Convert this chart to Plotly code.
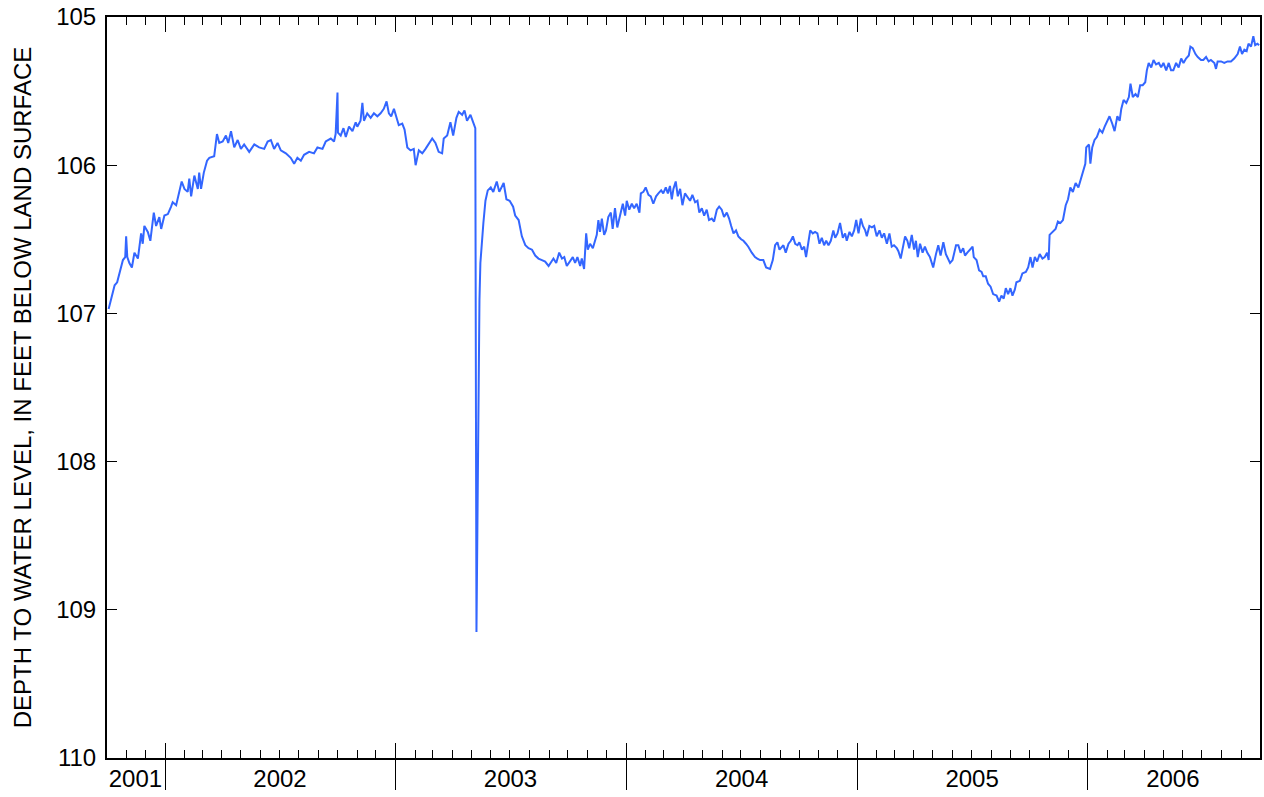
import pandas as pd
import plotly.graph_objects as go

years_2001 = [2001.755, 2001.766, 2001.781, 2001.792, 2001.802, 2001.817, 2001.827, 2001.831, 2001.836,
              2001.845, 2001.856, 2001.867, 2001.882, 2001.896, 2001.903, 2001.910, 2001.925, 2001.936,
              2001.951, 2001.961, 2001.975, 2001.983, 2001.997]
depth_2001 = [106.97, 106.91, 106.81, 106.79, 106.73, 106.64, 106.62, 106.48, 106.62,
              106.66, 106.69, 106.59, 106.63, 106.46, 106.53, 106.41, 106.45, 106.51,
              106.32, 106.41, 106.35, 106.43, 106.34]

years_2002 = [2002.012, 2002.026, 2002.033, 2002.048, 2002.062, 2002.072, 2002.084, 2002.098, 2002.105,
              2002.113, 2002.127, 2002.142, 2002.148, 2002.156, 2002.168, 2002.182, 2002.192, 2002.213,
              2002.225, 2002.235, 2002.250, 2002.264, 2002.274, 2002.286, 2002.300, 2002.315, 2002.329,
              2002.343, 2002.365, 2002.387, 2002.408, 2002.430, 2002.445, 2002.459, 2002.473, 2002.488,
              2002.502, 2002.524, 2002.545, 2002.560, 2002.574, 2002.589, 2002.603, 2002.625, 2002.646,
              2002.661, 2002.683, 2002.697, 2002.719, 2002.733, 2002.740, 2002.748, 2002.750, 2002.762,
              2002.774, 2002.784, 2002.798, 2002.813, 2002.827, 2002.834, 2002.848, 2002.856, 2002.863,
              2002.877, 2002.892, 2002.906, 2002.921, 2002.935, 2002.949, 2002.961, 2002.971, 2002.981,
              2002.993]
depth_2002 = [106.33, 106.28, 106.25, 106.27, 106.17, 106.11, 106.16, 106.18, 106.09,
              106.21, 106.07, 106.16, 106.05, 106.16, 106.05, 105.97, 105.95, 105.94,
              105.79, 105.85, 105.84, 105.80, 105.85, 105.77, 105.88, 105.83, 105.89,
              105.86, 105.91, 105.86, 105.88, 105.89, 105.84, 105.83, 105.89, 105.85,
              105.90, 105.92, 105.95, 105.99, 105.95, 105.97, 105.93, 105.91, 105.92,
              105.88, 105.89, 105.84, 105.82, 105.84, 105.79, 105.51, 105.78, 105.80,
              105.75, 105.81, 105.74, 105.77, 105.71, 105.74, 105.70, 105.58, 105.70,
              105.65, 105.68, 105.65, 105.67, 105.65, 105.62, 105.57, 105.65, 105.67,
              105.62]

years_2003 = [2003.007, 2003.014, 2003.029, 2003.039, 2003.051, 2003.065, 2003.079, 2003.087, 2003.101,
              2003.116, 2003.130, 2003.144, 2003.159, 2003.173, 2003.187, 2003.202, 2003.209, 2003.224,
              2003.238, 2003.250, 2003.264, 2003.274, 2003.289, 2003.299, 2003.310, 2003.325, 2003.339,
              2003.346, 2003.351, 2003.355, 2003.359, 2003.364, 2003.368, 2003.374, 2003.381, 2003.390,
              2003.400, 2003.413, 2003.424, 2003.439, 2003.450, 2003.469, 2003.481, 2003.495, 2003.510,
              2003.519, 2003.534, 2003.548, 2003.563, 2003.577, 2003.592, 2003.606, 2003.620, 2003.635,
              2003.649, 2003.664, 2003.674, 2003.685, 2003.697, 2003.710, 2003.722, 2003.732, 2003.743,
              2003.758, 2003.769, 2003.779, 2003.789, 2003.801, 2003.808, 2003.818, 2003.827, 2003.834,
              2003.844, 2003.856, 2003.866, 2003.873, 2003.880, 2003.887, 2003.895, 2003.905, 2003.913,
              2003.923, 2003.934, 2003.942, 2003.952, 2003.962, 2003.974, 2003.986, 2003.996]
depth_2003 = [105.70, 105.73, 105.72, 105.76, 105.88, 105.90, 105.89, 106.00, 105.90,
              105.92, 105.89, 105.86, 105.82, 105.85, 105.91, 105.92, 105.82, 105.80,
              105.71, 105.80, 105.68, 105.64, 105.66, 105.63, 105.70, 105.66, 105.72,
              105.75, 109.15, 108.40, 107.45, 106.91, 106.66, 106.51, 106.39, 106.24,
              106.17, 106.15, 106.18, 106.11, 106.18, 106.12, 106.23, 106.24, 106.28,
              106.34, 106.37, 106.48, 106.54, 106.56, 106.57, 106.61, 106.63, 106.64,
              106.65, 106.68, 106.66, 106.63, 106.66, 106.59, 106.63, 106.62, 106.68,
              106.65, 106.62, 106.66, 106.62, 106.68, 106.63, 106.70, 106.46, 106.57,
              106.53, 106.56, 106.50, 106.47, 106.37, 106.45, 106.36, 106.47, 106.44,
              106.35, 106.32, 106.43, 106.29, 106.42, 106.34, 106.26, 106.34]

years_2004 = [2004.003, 2004.014, 2004.025, 2004.035, 2004.046, 2004.058, 2004.064, 2004.075, 2004.085,
              2004.097, 2004.107, 2004.118, 2004.130, 2004.140, 2004.152, 2004.161, 2004.172, 2004.181,
              2004.190, 2004.198, 2004.205, 2004.215, 2004.224, 2004.234, 2004.244, 2004.255, 2004.265,
              2004.277, 2004.287, 2004.299, 2004.309, 2004.317, 2004.328, 2004.338, 2004.349, 2004.359,
              2004.371, 2004.381, 2004.393, 2004.403, 2004.414, 2004.424, 2004.436, 2004.446, 2004.455,
              2004.465, 2004.476, 2004.486, 2004.498, 2004.508, 2004.519, 2004.529, 2004.544, 2004.558,
              2004.568, 2004.580, 2004.594, 2004.606, 2004.623, 2004.635, 2004.645, 2004.655, 2004.664,
              2004.674, 2004.681, 2004.691, 2004.703, 2004.713, 2004.722, 2004.732, 2004.742, 2004.750,
              2004.761, 2004.771, 2004.779, 2004.789, 2004.797, 2004.808, 2004.818, 2004.828, 2004.837,
              2004.847, 2004.857, 2004.866, 2004.876, 2004.886, 2004.897, 2004.905, 2004.915, 2004.926,
              2004.938, 2004.948, 2004.955, 2004.967, 2004.977, 2004.987, 2004.996]
depth_2004 = [106.24, 106.30, 106.26, 106.29, 106.26, 106.32, 106.19, 106.18, 106.15,
              106.20, 106.21, 106.26, 106.21, 106.19, 106.17, 106.19, 106.15, 106.19,
              106.14, 106.23, 106.16, 106.11, 106.21, 106.16, 106.27, 106.19, 106.21,
              106.24, 106.20, 106.25, 106.24, 106.32, 106.29, 106.34, 106.30, 106.37,
              106.36, 106.38, 106.30, 106.28, 106.30, 106.35, 106.32, 106.36, 106.41,
              106.46, 106.44, 106.48, 106.50, 106.51, 106.53, 106.55, 106.59, 106.62,
              106.63, 106.64, 106.64, 106.69, 106.70, 106.64, 106.54, 106.52, 106.57,
              106.55, 106.54, 106.59, 106.53, 106.51, 106.48, 106.53, 106.54, 106.52,
              106.57, 106.55, 106.62, 106.52, 106.44, 106.46, 106.45, 106.46, 106.53,
              106.49, 106.54, 106.51, 106.54, 106.51, 106.44, 106.49, 106.46, 106.39,
              106.49, 106.46, 106.51, 106.45, 106.48, 106.44, 106.37]

years_2005 = [2005.006, 2005.016, 2005.025, 2005.035, 2005.042, 2005.053, 2005.064, 2005.074, 2005.085,
              2005.097, 2005.107, 2005.117, 2005.129, 2005.140, 2005.150, 2005.160, 2005.172, 2005.179,
              2005.189, 2005.198, 2005.208, 2005.218, 2005.226, 2005.237, 2005.247, 2005.255, 2005.263,
              2005.273, 2005.284, 2005.294, 2005.304, 2005.316, 2005.330, 2005.342, 2005.352, 2005.362,
              2005.374, 2005.385, 2005.395, 2005.403, 2005.414, 2005.429, 2005.439, 2005.449, 2005.460,
              2005.468, 2005.478, 2005.489, 2005.501, 2005.506, 2005.518, 2005.529, 2005.540, 2005.547,
              2005.558, 2005.568, 2005.579, 2005.590, 2005.605, 2005.616, 2005.626, 2005.636, 2005.645,
              2005.655, 2005.665, 2005.674, 2005.684, 2005.691, 2005.706, 2005.717, 2005.732, 2005.742,
              2005.752, 2005.761, 2005.771, 2005.781, 2005.792, 2005.804, 2005.814, 2005.824, 2005.831,
              2005.835, 2005.850, 2005.861, 2005.871, 2005.882, 2005.893, 2005.905, 2005.915, 2005.925,
              2005.936, 2005.948, 2005.960, 2005.973, 2005.983, 2005.990, 2005.994]
depth_2005 = [106.46, 106.36, 106.41, 106.44, 106.48, 106.41, 106.42, 106.41, 106.48,
              106.44, 106.49, 106.46, 106.53, 106.46, 106.55, 106.54, 106.56, 106.58,
              106.63, 106.55, 106.48, 106.51, 106.56, 106.47, 106.57, 106.51, 106.62,
              106.53, 106.59, 106.55, 106.59, 106.62, 106.69, 106.60, 106.54, 106.61,
              106.52, 106.60, 106.63, 106.66, 106.64, 106.54, 106.54, 106.59, 106.56,
              106.61, 106.59, 106.57, 106.55, 106.62, 106.64, 106.71, 106.72, 106.75,
              106.75, 106.80, 106.82, 106.87, 106.88, 106.92, 106.88, 106.90, 106.83,
              106.87, 106.83, 106.88, 106.84, 106.79, 106.78, 106.73, 106.72, 106.69,
              106.62, 106.69, 106.62, 106.65, 106.60, 106.63, 106.62, 106.59, 106.64,
              106.47, 106.45, 106.43, 106.38, 106.39, 106.37, 106.27, 106.23, 106.15,
              106.18, 106.12, 106.15, 106.08, 106.02, 105.99, 105.88]

years_2006 = [2006.006, 2006.012, 2006.020, 2006.030, 2006.040, 2006.052, 2006.064, 2006.074, 2006.084,
              2006.095, 2006.107, 2006.117, 2006.129, 2006.139, 2006.146, 2006.156, 2006.168, 2006.179,
              2006.186, 2006.196, 2006.208, 2006.218, 2006.228, 2006.239, 2006.250, 2006.257, 2006.265,
              2006.276, 2006.286, 2006.297, 2006.309, 2006.319, 2006.329, 2006.341, 2006.352, 2006.362,
              2006.372, 2006.384, 2006.395, 2006.406, 2006.416, 2006.427, 2006.439, 2006.446, 2006.456,
              2006.468, 2006.478, 2006.492, 2006.502, 2006.514, 2006.525, 2006.535, 2006.550, 2006.557,
              2006.564, 2006.579, 2006.593, 2006.607, 2006.622, 2006.636, 2006.651, 2006.661, 2006.670,
              2006.680, 2006.690, 2006.698, 2006.709, 2006.719, 2006.727, 2006.737, 2006.744]
depth_2006 = [105.86, 105.99, 105.88, 105.83, 105.81, 105.76, 105.78, 105.74, 105.70,
              105.67, 105.72, 105.77, 105.67, 105.70, 105.62, 105.56, 105.58, 105.54,
              105.45, 105.54, 105.52, 105.54, 105.46, 105.46, 105.44, 105.36, 105.31,
              105.34, 105.29, 105.32, 105.31, 105.34, 105.31, 105.36, 105.31, 105.36,
              105.36, 105.31, 105.34, 105.28, 105.31, 105.28, 105.26, 105.20, 105.21,
              105.25, 105.27, 105.29, 105.29, 105.27, 105.30, 105.29, 105.31, 105.35,
              105.30, 105.30, 105.31, 105.30, 105.30, 105.28, 105.25, 105.20, 105.25,
              105.22, 105.23, 105.18, 105.20, 105.13, 105.19, 105.18, 105.19]

year_labels = ["2001", "2002", "2003", "2004", "2005", "2006"]
year_starts = ["2002-01-01", "2003-01-01", "2004-01-01", "2005-01-01", "2006-01-01"]
label_positions = ["2001-11-15", "2002-07-02", "2003-07-02", "2004-07-02", "2005-07-02", "2006-05-16"]
y_ticks = [105, 106, 107, 108, 109, 110]
x_range = ["2001-10-01", "2006-10-01"]
y_title = "DEPTH TO WATER LEVEL, IN FEET BELOW LAND SURFACE"


def to_dates(dec_years):
    s = pd.Series(dec_years, dtype=float)
    yr = s.astype(int)
    start = pd.to_datetime(yr.astype(str) + "-01-01")
    end = pd.to_datetime((yr + 1).astype(str) + "-01-01")
    return start + (end - start) * (s - yr)


all_years = years_2001 + years_2002 + years_2003 + years_2004 + years_2005 + years_2006
all_depth = depth_2001 + depth_2002 + depth_2003 + depth_2004 + depth_2005 + depth_2006
dates = to_dates(all_years)

FONT = "Liberation Sans, Arial, sans-serif"

fig = go.Figure()
# the same series attached to the helper axes (fully transparent) so that they are drawn
for ax in ("x2", "x3"):
    fig.add_trace(go.Scatter(x=dates, y=all_depth, mode="lines", xaxis=ax, yaxis="y",
                             line=dict(color="rgba(0,0,0,0)", width=0), showlegend=False,
                             hoverinfo="skip"))
fig.add_trace(go.Scatter(x=dates, y=all_depth, mode="lines",
                         line=dict(color="#3366ff", width=2), showlegend=False,
                         hoverinfo="x+y"))

fig.update_layout(
    width=1264, height=797,
    margin=dict(l=107, r=4, t=17, b=39, autoexpand=False),
    paper_bgcolor="white", plot_bgcolor="white",
    font=dict(family=FONT, color="black", size=24),
    showlegend=False,
    xaxis=dict(
        type="date", range=x_range, anchor="y",
        showgrid=False, zeroline=False,
        showline=True, linecolor="black", linewidth=2, mirror="ticks",
        tickmode="array", tickvals=year_starts, ticks="inside", ticklen=15,
        tickwidth=1, tickcolor="black", showticklabels=False,
        minor=dict(ticks="inside", ticklen=8, tickwidth=1, tickcolor="black",
                   dtick="M1", tick0="2002-01-01", showgrid=False),
    ),
    xaxis2=dict(
        type="date", range=x_range, overlaying="x", anchor="y", side="bottom",
        showgrid=False, zeroline=False, showline=False,
        tickmode="array", tickvals=year_starts, ticks="outside", ticklen=31,
        tickwidth=1, tickcolor="black", showticklabels=False,
    ),
    xaxis3=dict(
        type="date", range=x_range, overlaying="x", anchor="y", side="bottom",
        showgrid=False, zeroline=False, showline=False,
        tickmode="array", tickvals=label_positions, ticktext=year_labels,
        ticks="", showticklabels=True, tickfont=dict(size=24, family=FONT, color="black"),
        ticklabelstandoff=4,
    ),
    yaxis=dict(
        range=[110, 105], tickmode="array", tickvals=y_ticks,
        showgrid=False, zeroline=False,
        showline=True, linecolor="black", linewidth=2, mirror="ticks",
        ticks="inside", ticklen=10, tickwidth=1, tickcolor="black",
        tickfont=dict(size=24, family=FONT, color="black"),
        ticklabelstandoff=4,
    ),
    annotations=[dict(
        text=y_title, textangle=-90, xref="paper", yref="paper",
        x=(22 - 107) / 1153, y=0.499, xanchor="center", yanchor="middle",
        showarrow=False, font=dict(size=24, family=FONT, color="black"),
    )],
)

fig.write_html("out.html", config={"displayModeBar": False},
               post_script="document.body.style.margin='0px';document.body.style.overflow='hidden';")
